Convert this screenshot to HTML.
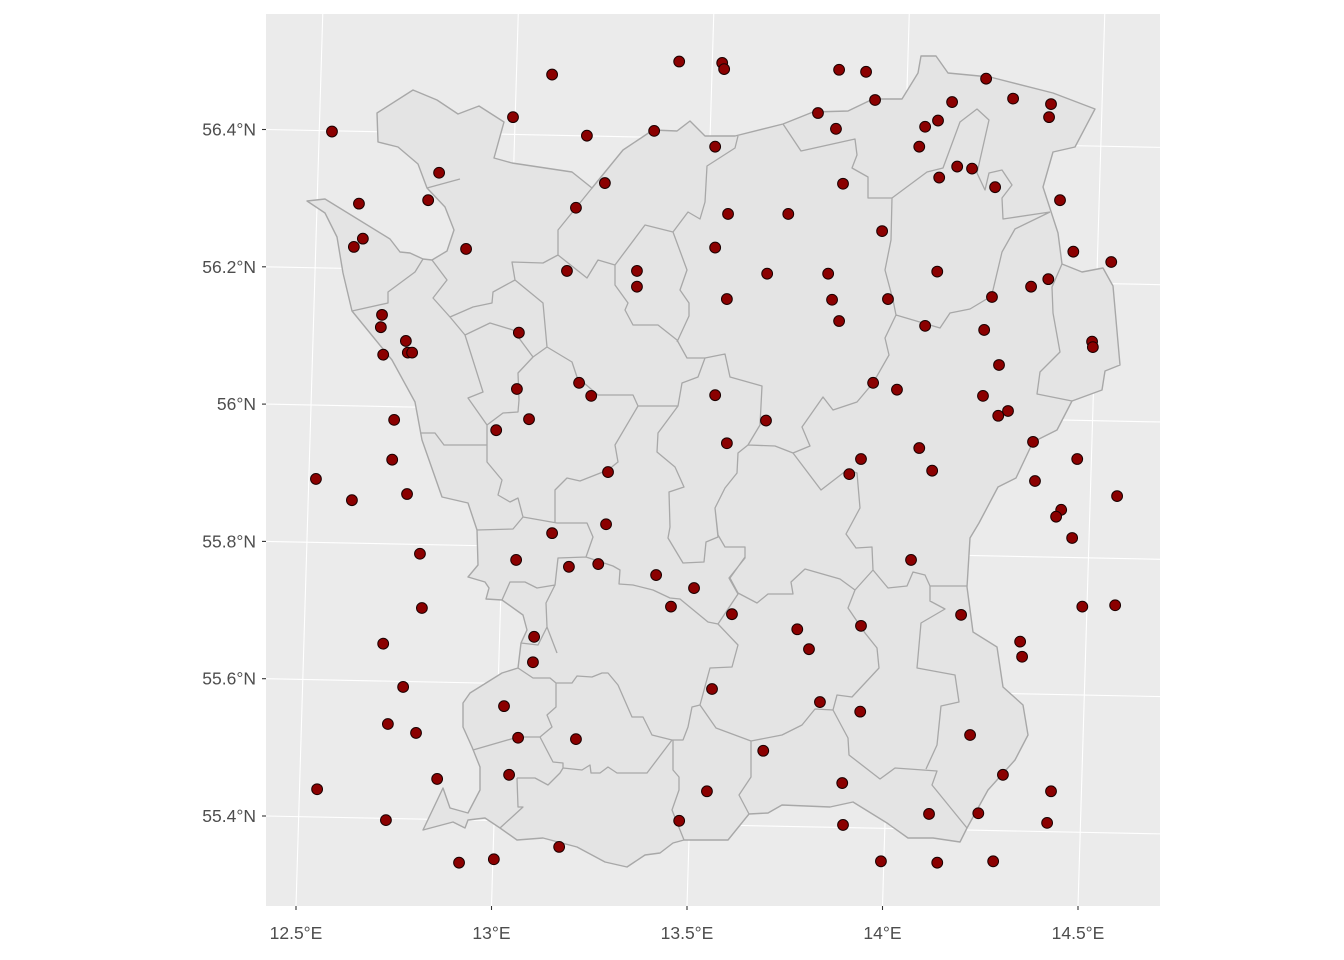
<!DOCTYPE html>
<html><head><meta charset="utf-8"><style>
html,body{margin:0;padding:0;background:#fff;}
svg{display:block;font-family:"Liberation Sans",sans-serif;}
</style></head><body>
<svg id="chart" width="1344" height="960" viewBox="0 0 1344 960">
<rect x="266" y="14" width="894" height="892" fill="#ebebeb"/>
<g id="grid"></g>
<g id="basemap">
<path fill="#e4e4e4" stroke="#a8a8a8" stroke-width="1.4" stroke-linejoin="round" d="M307,201 L325,199 L390,239 L400,252 L410,253 L423,259 L432,260 L447,251 L454,230 L445,207 L427,188 L418,164 L398,147 L378,142 L377,113 L413,90 L437,100 L458,114 L479,106 L504,122 L494,158 L512,163 L572,172 L592,188 L623,150 L653,130 L677,131 L690,121 L705,136 L735,136 L783,124 L813,112 L848,111 L873,99 L902,99 L918,73 L921,56 L936,56 L948,73 L990,77 L1053,93 L1095,109 L1075,147 L1053,152 L1043,187 L1058,233 L1062,264 L1082,272 L1103,268 L1113,286 L1120,365 L1105,371 L1102,390 L1072,401 L1057,430 L1033,442 L1016,478 L998,487 L979,523 L970,538 L967,587 L973,632 L997,647 L1003,687 L1023,705 L1028,735 L1015,760 L988,790 L967,828 L960,842 L933,838 L908,838 L887,823 L853,802 L830,807 L782,805 L768,813 L749,814 L728,840 L684,840 L673,843 L660,853 L645,855 L627,867 L605,862 L577,847 L543,838 L517,840 L500,828 L485,818 L468,820 L465,828 L453,822 L423,830 L443,788 L450,808 L468,813 L480,790 L480,767 L472,747 L463,727 L463,703 L470,693 L502,673 L518,668 L521,643 L527,630 L523,615 L502,600 L486,599 L489,588 L485,582 L468,577 L478,565 L477,530 L468,503 L442,497 L422,440 L415,402 L392,360 L352,311 L343,273 L337,237 L325,213 Z"/>
<path fill="none" stroke="#a8a8a8" stroke-width="1.3" stroke-linejoin="round" d="
M427,188 L460,179
M352,311 L388,303 L388,292 L415,272 L423,259
M432,260 L447,280 L433,298 L450,317 L465,335 L483,392 L468,398 L487,425 L487,445
M487,425 L503,413 L518,412 L519,400 L518,373 L533,357
M420,433 L435,433 L444,445 L487,445 L487,462 L502,480 L498,495 L510,502 L518,498 L523,517 L557,523 L587,523 L593,537 L586,557 L558,558 L555,585 L546,603 L547,627 L557,653
M450,317 L473,307 L492,303 L493,292 L515,280 L512,262 L543,263 L558,255 L558,230 L592,188
M465,335 L490,323 L513,330 L533,357 L547,347 L543,303 L515,280
M547,347 L572,362 L577,377 L598,395 L633,395 L638,406 L678,406 L682,383 L698,377 L705,358 L725,354 L730,377 L762,386 L760,425 L748,445 L738,453 L737,473 L725,488 L715,508 L718,535 L725,547 L745,547 L745,557 L730,578 L738,593 L757,603 L768,594 L793,594 L791,582 L805,569 L840,579 L855,590 L873,570 L872,547 L856,548 L846,534 L860,508 L857,473 L847,470 L821,490 L793,453 L775,446 L748,445
M558,255 L587,278 L598,260 L615,265 L615,285 L628,303 L625,310 L633,325 L658,325 L677,340 L687,358 L705,358
M615,265 L645,225 L673,232 L687,270 L680,290 L689,303 L689,316 L677,342
M673,232 L688,212 L700,219 L705,202 L707,166 L735,148 L738,136
M783,124 L801,151 L855,139 L857,155 L852,168 L868,177 L868,198 L892,198 L927,172 L943,168 L960,122 L977,109 L989,120 L977,173 L985,190 L989,173 L1002,170 L1012,185 L1002,198 L1003,219 L1050,212
M892,198 L891,240 L885,270 L893,300 L896,315 L940,328 L950,313 L970,309 L990,297 L993,290 L1002,252 L1015,229 L1050,212
M896,315 L885,338 L889,355 L873,383 L857,402 L833,410 L823,397 L802,427 L810,446 L793,453
M1062,264 L1052,287 L1053,313 L1060,352 L1040,372 L1037,394 L1072,401
M873,570 L888,588 L907,586 L913,572 L925,575 L930,586 L967,586
M930,586 L930,601 L945,609 L921,623 L917,668 L955,675 L959,702 L941,706 L937,745 L926,769
M855,590 L848,608 L865,633 L877,648 L879,668 L852,697 L837,695 L833,710 L848,738 L849,755 L880,779 L895,768 L937,771 L932,785 L967,828
M833,710 L815,709 L802,725 L782,735 L751,741 L716,728 L700,705
M751,741 L751,777 L739,795 L749,814
M586,557 L613,566 L620,570 L619,584 L633,585 L653,590 L670,598 L680,599 L708,622 L718,624 L738,645 L732,667 L710,668 L700,705 L692,707 L688,727 L683,740 L672,740 L647,773 L617,773 L608,767 L600,773 L591,773 L590,765 L582,770 L563,768 L563,763 L553,762 L540,737 L552,727 L547,715 L556,707 L556,683 L572,683 L577,676 L592,677 L602,673 L608,673 L618,685 L632,717 L643,717 L652,735 L672,740
M673,740 L673,770 L679,777 L679,790 L672,810 L684,840
M718,624 L738,594 L729,578 L745,558 L745,547
M473,750 L518,737 L540,737
M517,778 L535,778 L548,785 L560,773 L563,768
M517,778 L518,807 L523,807 L500,828
M502,600 L510,582 L525,582 L537,588 L555,585
M477,530 L513,529 L523,517
M555,523 L555,490 L567,478 L580,481 L608,470 L618,462 L615,445 L638,406
M678,406 L658,433 L657,452 L675,467 L684,487 L669,492 L670,527 L668,538 L683,563 L704,562 L706,542 L718,537 L715,508
M521,643 L538,645 L547,627
M518,668 L533,678 L550,678 L556,683"/>
</g>
<g id="points"></g>
<g id="axes"></g>
</svg>
<script>
const lonTicks = [12.5, 13, 13.5, 14, 14.5];
const lonTickLabels = ["12.5°E", "13°E", "13.5°E", "14°E", "14.5°E"];
const latTicks = [55.4, 55.6, 55.8, 56, 56.2, 56.4];
const latTickLabels = ["55.4°N", "55.6°N", "55.8°N", "56°N", "56.2°N", "56.4°N"];
const pointLon = [12.592,13.155,13.480,13.590,13.595,13.889,13.958,14.265,13.055,13.244,13.416,13.572,13.835,13.881,13.981,14.178,14.142,14.109,14.334,14.431,14.426,14.094,14.191,14.229,14.145,14.288,14.454,13.899,13.290,12.866,12.838,12.661,13.216,13.605,13.759,13.999,12.935,12.648,12.671,13.193,13.372,13.372,13.572,13.705,13.861,13.602,13.871,14.014,14.140,14.488,14.585,14.424,14.380,14.280,13.889,14.109,14.260,12.720,12.717,12.781,12.786,12.797,12.723,13.070,14.536,14.538,14.298,13.976,14.037,13.224,13.255,13.065,13.572,14.257,14.321,14.296,12.751,13.096,13.012,13.702,13.602,14.094,14.385,13.945,14.127,13.915,13.298,12.551,12.746,14.498,12.784,12.643,14.600,14.390,14.457,14.444,14.485,13.155,13.293,12.817,13.063,13.198,13.273,14.073,13.421,13.518,12.822,13.459,13.615,14.201,14.511,14.595,13.782,13.945,14.352,14.357,12.723,13.109,13.106,13.812,12.774,13.564,13.032,13.840,13.943,12.735,12.807,13.068,13.216,14.224,13.695,12.861,13.045,14.308,13.897,13.551,14.431,14.245,14.119,12.730,13.480,13.899,14.421,13.173,12.917,13.006,13.996,14.140,14.283,12.554];
const pointLat = [56.397,56.480,56.499,56.497,56.488,56.487,56.484,56.474,56.418,56.391,56.398,56.375,56.424,56.401,56.443,56.440,56.413,56.404,56.445,56.437,56.418,56.375,56.346,56.343,56.330,56.316,56.297,56.321,56.322,56.337,56.297,56.292,56.286,56.277,56.277,56.252,56.226,56.229,56.241,56.194,56.194,56.171,56.228,56.190,56.190,56.153,56.152,56.153,56.193,56.222,56.207,56.182,56.171,56.156,56.121,56.114,56.108,56.130,56.112,56.092,56.075,56.075,56.072,56.104,56.091,56.083,56.057,56.031,56.021,56.031,56.012,56.022,56.013,56.012,55.990,55.983,55.977,55.978,55.962,55.976,55.943,55.936,55.945,55.920,55.903,55.898,55.901,55.891,55.919,55.920,55.869,55.860,55.866,55.888,55.846,55.836,55.805,55.812,55.825,55.782,55.773,55.763,55.767,55.773,55.751,55.732,55.703,55.705,55.694,55.693,55.705,55.707,55.672,55.677,55.654,55.632,55.651,55.661,55.624,55.643,55.588,55.585,55.560,55.566,55.552,55.534,55.521,55.514,55.512,55.518,55.495,55.454,55.460,55.460,55.448,55.436,55.436,55.404,55.403,55.394,55.393,55.387,55.390,55.355,55.332,55.337,55.334,55.332,55.334,55.439];

const NS='http://www.w3.org/2000/svg';
function xScale(lon){ return 296 + (lon - 12.5) * 391; }
function yScale(lat){ return 816 - (lat - 55.4) * 686.5; }
function mk(tag, attrs, parent){ const e=document.createElementNS(NS,tag); for(const k in attrs) e.setAttribute(k, attrs[k]); parent.appendChild(e); return e; }

const grid=document.getElementById('grid');
const axes=document.getElementById('axes');
// longitude lines (slightly tilted graticule)
lonTicks.forEach((lon,i)=>{
  const xb=xScale(lon), xt=xb+0.03*(906-14);
  const l=mk('line',{x1:xb,y1:906,x2:xt,y2:14,stroke:'#ffffff','stroke-width':1.1},grid);
  
  
  const t=mk('line',{x1:xb,y1:906,x2:xb,y2:910,stroke:'#333','stroke-width':1.1},axes);
  
  
  const tx=mk('text',{x:xb,y:939,'text-anchor':'middle','font-size':'17.5',fill:'#4d4d4d'},axes);
  tx.textContent=lonTickLabels[i];
  
  
});
latTicks.forEach((lat,i)=>{
  const yl=yScale(lat), yr=yl+0.02*(1160-266);
  const l=mk('line',{x1:266,y1:yl,x2:1160,y2:yr,stroke:'#ffffff','stroke-width':1.1},grid);
  
  
  const t=mk('line',{x1:262,y1:yl,x2:266,y2:yl,stroke:'#333','stroke-width':1.1},axes);
  
  
  const tx=mk('text',{x:256,y:yl+6,'text-anchor':'end','font-size':'17.5',fill:'#4d4d4d'},axes);
  tx.textContent=latTickLabels[i];
  
  
});
const pts=document.getElementById('points');
pointLon.forEach((lon,i)=>{
  const c=mk('circle',{cx:xScale(lon),cy:yScale(pointLat[i]),r:5.4,fill:'#8b0000',stroke:'#1a0000','stroke-width':1},pts);
  
  
});
</script>
</body></html>
